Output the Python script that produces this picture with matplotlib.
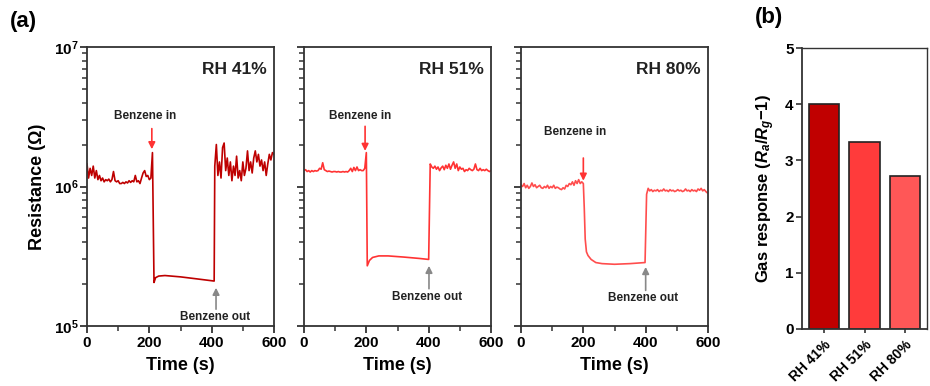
import numpy as np
import matplotlib
matplotlib.use("Agg")
import matplotlib.pyplot as plt
from matplotlib.ticker import FixedLocator, NullFormatter, FixedFormatter

plt.rcParams['font.family'] = ['Liberation Sans', 'DejaVu Sans']
plt.rcParams['font.weight'] = 'bold'
plt.rcParams['mathtext.fontset'] = 'custom'
plt.rcParams['mathtext.rm'] = 'Liberation Sans:bold'
plt.rcParams['mathtext.bf'] = 'Liberation Sans:bold'
plt.rcParams['mathtext.it'] = 'Liberation Sans:italic:bold'

# ---------------- data ----------------
# Panel RH 41 %
p1_t_pre = np.arange(0, 211, 5)
p1_r_pre = [1.45, 1.15, 1.35, 1.2, 1.4, 1.15, 1.3, 1.12, 1.2, 1.1, 1.15, 1.08, 1.12, 1.1,
            1.13, 1.08, 1.12, 1.28, 1.1, 1.08, 1.1, 1.05, 1.05, 1.07, 1.05, 1.08, 1.06, 1.1,
            1.07, 1.1, 1.08, 1.2, 1.08, 1.1, 1.05, 1.15, 1.25, 1.3, 1.18, 1.2, 1.12, 1.15, 1.75]
p1_t_low = [215, 220, 230, 250, 300, 350, 408]
p1_r_low = [0.205, 0.222, 0.228, 0.23, 0.225, 0.218, 0.21]
p1_t_post = np.arange(410, 601, 5)
p1_r_post = [1.4, 2.0, 1.2, 1.5, 1.15, 1.9, 2.05, 1.3, 1.6, 1.2, 1.5, 1.1, 1.4, 1.2, 1.65,
             1.15, 1.3, 1.1, 1.5, 1.2, 1.35, 1.8, 1.3, 1.5, 1.25, 1.6, 1.8, 1.5, 1.7, 1.4,
             1.55, 1.3, 1.5, 1.2, 1.45, 1.7, 1.55, 1.75, 1.7]

# Panel RH 51 %
p2_t_pre = np.arange(0, 201, 5)
p2_r_pre = [1.3, 1.32, 1.28, 1.3, 1.27, 1.3, 1.28, 1.3, 1.29, 1.3, 1.35, 1.33, 1.48, 1.32,
            1.3, 1.28, 1.29, 1.28, 1.27, 1.28, 1.28, 1.27, 1.28, 1.27, 1.27, 1.28, 1.27, 1.28,
            1.27, 1.3, 1.35, 1.28, 1.37, 1.3, 1.38, 1.3, 1.32, 1.3, 1.3, 1.35, 1.75]
p2_t_low = [203, 210, 220, 240, 270, 320, 370, 400]
p2_r_low = [0.27, 0.295, 0.31, 0.318, 0.318, 0.312, 0.305, 0.30]
p2_t_post = np.arange(405, 601, 5)
p2_r_post = [1.45, 1.38, 1.35, 1.4, 1.33, 1.38, 1.3, 1.36, 1.4, 1.32, 1.42, 1.35, 1.45, 1.33,
             1.42, 1.5, 1.35, 1.45, 1.3, 1.38, 1.33, 1.35, 1.28, 1.32, 1.3, 1.35, 1.32, 1.3,
             1.33, 1.45, 1.32, 1.3, 1.35, 1.3, 1.32, 1.3, 1.33, 1.3, 1.28, 1.3]

# Panel RH 80 %
p3_t_pre = np.arange(0, 201, 5)
p3_r_pre = [1.02, 1.0, 1.05, 0.98, 1.02, 0.97, 1.0, 1.06, 1.0, 1.03, 0.98, 1.0, 1.02, 0.98,
            0.97, 1.0, 0.98, 1.02, 0.97, 1.0, 0.98, 1.02, 0.97, 0.99, 0.98, 0.96, 0.95, 0.98,
            0.96, 1.02, 1.0, 1.05, 1.03, 1.08, 1.02, 1.1, 1.05, 1.12, 1.05, 1.08, 1.05]
p3_t_low = [203, 206, 210, 215, 225, 240, 260, 300, 350, 398]
p3_r_low = [0.7, 0.42, 0.34, 0.32, 0.30, 0.285, 0.28, 0.277, 0.28, 0.285]
p3_t_post = np.arange(403, 601, 5)
p3_r_post = [0.88, 0.97, 0.93, 0.95, 0.92, 0.94, 0.93, 0.95, 0.92, 0.94, 0.93, 0.96, 0.93,
             0.94, 0.92, 0.95, 0.93, 0.94, 0.92, 0.93, 0.95, 0.93, 0.94, 0.92, 0.93, 0.96,
             0.93, 0.94, 0.92, 0.95, 0.93, 0.94, 0.92, 0.96, 0.94, 0.97, 0.93, 0.95, 0.92, 0.9]

panel_labels = ["RH 41%", "RH 51%", "RH 80%"]
line_colors = ["#BE0000", "#FF3333", "#FF4D4D"]

# annotation anchors (time, resistance)
in_text = [(186, 3.2e6), (180, 3.2e6), (174, 2.45e6)]
in_arrow = [((208, 2.6e6), (208, 1.85e6)), ((196, 2.7e6), (196, 1.8e6)), ((200, 1.6e6), (200, 1.1e6))]
out_text = [(411, 1.16e5), (395, 1.62e5), (393, 1.6e5)]
out_arrow = [((414, 1.32e5), (414, 1.88e5)), ((401, 1.85e5), (401, 2.7e5)), ((400, 1.8e5), (400, 2.65e5))]

bar_labels = ["RH 41%", "RH 51%", "RH 80%"]
bar_values = [4.0, 3.33, 2.72]
bar_colors = ["#C00000", "#FF3B3B", "#FF5757"]

# ---------------- figure ----------------
fig = plt.figure(figsize=(9.3, 3.86), dpi=100)

series = [
    (p1_t_pre, p1_r_pre, p1_t_low, p1_r_low, p1_t_post, p1_r_post),
    (p2_t_pre, p2_r_pre, p2_t_low, p2_r_low, p2_t_post, p2_r_post),
    (p3_t_pre, p3_r_pre, p3_t_low, p3_r_low, p3_t_post, p3_r_post),
]
lefts = [87, 304, 521]
spine_col = "#333333"
minor_locs = [m * 10.0 ** e for e in (5, 6) for m in range(2, 10)]

for i, (tp, rp, tl, rl, tq, rq) in enumerate(series):
    ax = fig.add_axes([lefts[i] / 930, 60 / 386, 187 / 930, 279 / 386])
    t = np.concatenate([tp, tl, tq])
    r = np.concatenate([np.array(rp) * 1e6, np.array(rl) * 1e6, np.array(rq) * 1e6])
    ax.plot(t, r, color=line_colors[i], lw=1.2)
    ax.set_yscale('log')
    ax.set_ylim(1e5, 1e7)
    ax.set_xlim(0, 600)
    ax.set_xticks([0, 200, 400, 600])
    ax.set_xticks([100, 300, 500], minor=True)
    ax.yaxis.set_major_locator(FixedLocator([1e5, 1e6, 1e7]))
    ax.yaxis.set_minor_locator(FixedLocator(minor_locs))
    ax.yaxis.set_minor_formatter(NullFormatter())
    if i == 0:
        ax.yaxis.set_major_formatter(FixedFormatter([r'$10^{5}$', r'$10^{6}$', r'$10^{7}$']))
        ax.set_ylabel("Resistance (Ω)", fontsize=13, fontweight='bold', labelpad=6)
    else:
        ax.yaxis.set_major_formatter(NullFormatter())
    ax.tick_params(axis='both', which='major', direction='out', length=5, width=1.3,
                   labelsize=11, color=spine_col, pad=2)
    ax.tick_params(axis='both', which='minor', direction='out', length=3.5, width=1.1,
                   color=spine_col)
    ax.tick_params(axis='y', which='major', labelsize=11, pad=1)
    for s in ax.spines.values():
        s.set_linewidth(1.3)
        s.set_color(spine_col)
    ax.set_xlabel("Time (s)", fontsize=13, fontweight='bold', labelpad=5)
    ax.text(0.96, 0.92, panel_labels[i], transform=ax.transAxes, ha='right', va='center',
            fontsize=12.5, fontweight='bold', color="#222222")
    ax.text(in_text[i][0], in_text[i][1], "Benzene in", ha='center', va='center',
            fontsize=8.5, fontweight='bold', color="#222222")
    ax.annotate("", xy=in_arrow[i][1], xytext=in_arrow[i][0],
                arrowprops=dict(arrowstyle='-|>', color="#FF3333", lw=1.2,
                                mutation_scale=10, shrinkA=0, shrinkB=0))
    ax.text(out_text[i][0], out_text[i][1], "Benzene out", ha='center', va='center',
            fontsize=8.5, fontweight='bold', color="#222222")
    ax.annotate("", xy=out_arrow[i][1], xytext=out_arrow[i][0],
                arrowprops=dict(arrowstyle='-|>', color="#888888", lw=1.2,
                                mutation_scale=10, shrinkA=0, shrinkB=0))

# bar panel
axb = fig.add_axes([802 / 930, 57 / 386, 125 / 930, 281 / 386])
x = np.arange(len(bar_values))
axb.bar(x, bar_values, width=0.76, color=bar_colors, edgecolor="#222222", linewidth=1.2)
axb.set_xlim(-0.55, 2.55)
axb.set_ylim(0, 5)
axb.set_yticks([0, 1, 2, 3, 4, 5])
axb.set_xticks(x)
axb.set_xticklabels(bar_labels, rotation=45, ha='right', rotation_mode='anchor',
                    fontsize=10, fontweight='bold')
axb.tick_params(axis='y', direction='out', length=4, width=1.2, labelsize=11, pad=2, color=spine_col)
axb.tick_params(axis='x', direction='out', length=3, width=1.2, pad=3, color=spine_col)
for s in axb.spines.values():
    s.set_linewidth(1.0)
    s.set_color(spine_col)
axb.spines['left'].set_linewidth(1.3)
axb.spines['bottom'].set_linewidth(1.3)
axb.set_ylabel(r'Gas response ($\mathit{R_a}$/$\mathit{R_g}$$-$1)', fontsize=12,
               fontweight='bold', labelpad=6)

fig.text(10 / 930, 1 - 22 / 386, "(a)", fontsize=16, fontweight='bold', va='center', ha='left')
fig.text(755 / 930, 1 - 18 / 386, "(b)", fontsize=16, fontweight='bold', va='center', ha='left')

fig.savefig("out.png", dpi=100)
